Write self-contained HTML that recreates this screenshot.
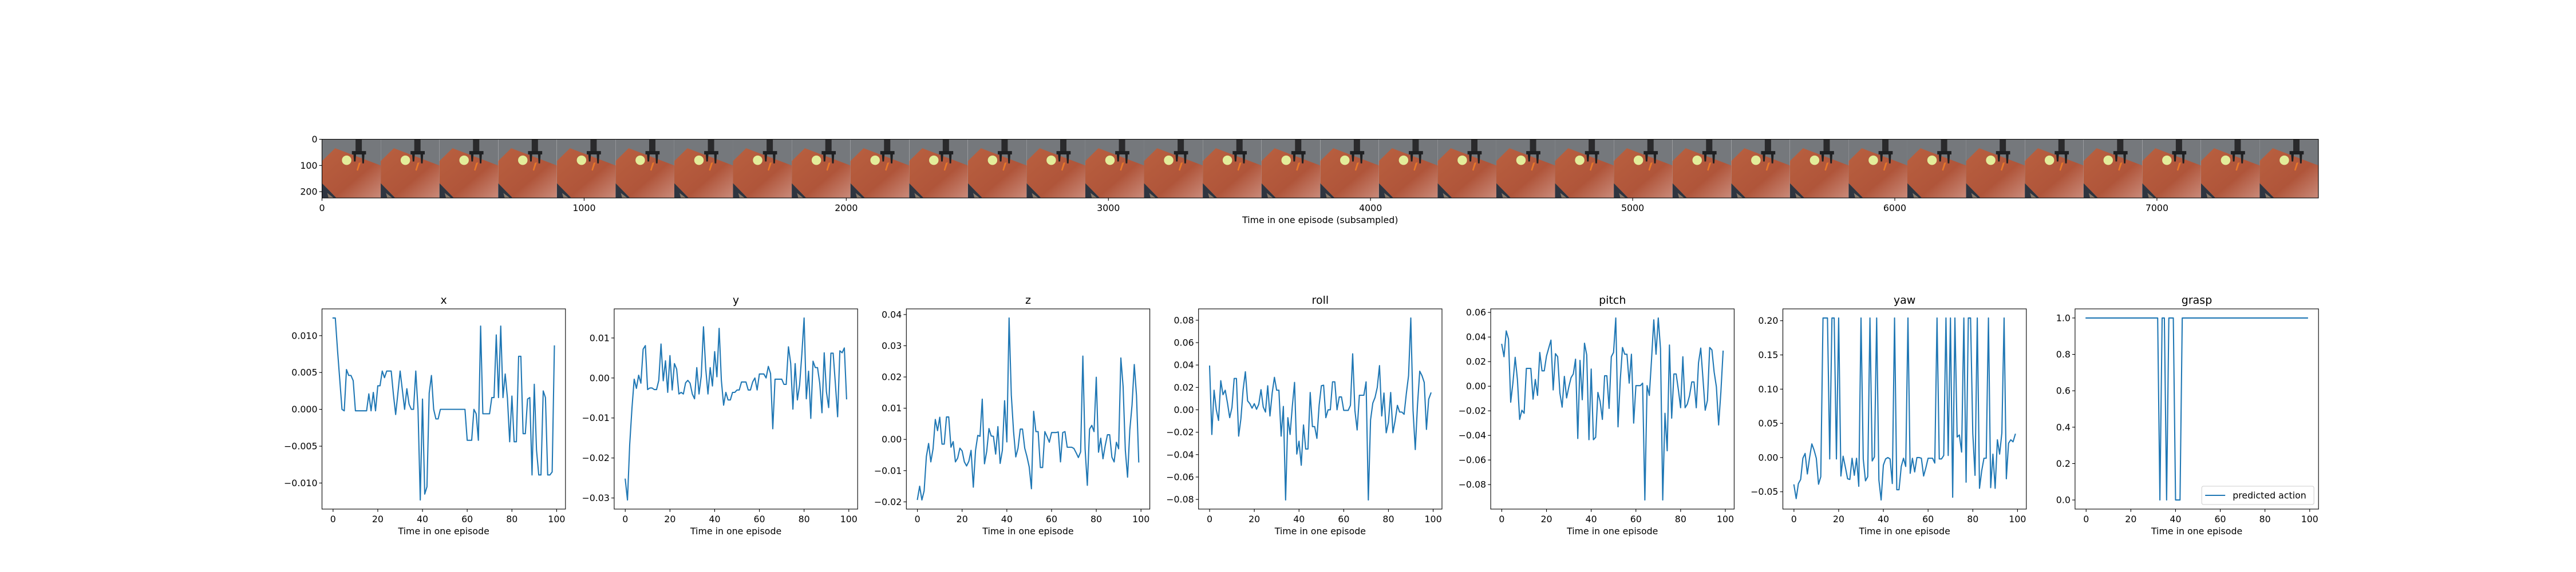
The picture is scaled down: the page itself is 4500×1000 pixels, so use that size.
<!DOCTYPE html>
<html><head><meta charset="utf-8">
<style>
html,body{margin:0;padding:0;background:#fff;}
svg{display:block;font-family:"DejaVu Sans","Liberation Sans",sans-serif;}
</style></head>
<body>
<svg id="fig" width="4500" height="1000" viewBox="0 0 4500 1000" xmlns="http://www.w3.org/2000/svg">
<defs>
<clipPath id="frameClip"><rect x="0" y="0" width="224" height="224"/></clipPath>
<linearGradient id="tableGrad" x1="0" y1="0" x2="1" y2="1">
<stop offset="0" stop-color="#b9603f"/><stop offset="0.6" stop-color="#b0553a"/><stop offset="1" stop-color="#c98a7a"/>
</linearGradient>
<g id="frame" clip-path="url(#frameClip)">
<rect x="0" y="0" width="224" height="224" fill="#75787c"/>
<polygon points="0,83 50,34 224,100 224,224 55,224 0,168" fill="url(#tableGrad)"/>
<polygon points="0,168 55,224 0,224" fill="#2f3540"/>
<polygon points="20,205 45,224 25,224" fill="#8b7a6a"/>
<circle cx="94" cy="80" r="18" fill="#e3ed9a"/>
<polygon points="140,90 148,88 137,120 132,118" fill="#e8782a"/>
<rect x="128" y="0" width="24" height="50" fill="#2a2a2c"/>
<polygon points="114,45 168,45 168,58 162,58 160,92 154,92 152,58 130,58 128,85 122,85 120,58 114,58" fill="#1f2022"/>
</g>
</defs>
<g id="imgAxes"></g>
<g id="panels"></g>
</svg>
<script>
const steps = Array.from({length:100},(_,i)=>i);
const seriesX = [0.0124,0.0124,0.008,0.004,0.0,-0.0002,0.0054,0.0046,0.0046,0.0039,-0.0002,-0.0002,-0.0002,-0.0002,-0.0002,-0.0002,0.0021,-0.0002,0.0023,-0.0002,0.0032,0.0032,0.0052,0.0043,0.0052,0.0052,0.0052,0.002,-0.0007,0.0022,0.0052,0.0026,0.0,0.0028,0.0007,0.0,0.0,0.0052,0.0,-0.0123,0.0014,-0.0115,-0.0105,0.0022,0.0046,0.0,-0.0013,-0.0013,0.0,0.0,0.0,0.0,0.0,0.0,0.0,0.0,0.0,0.0,0.0,0.0,-0.0042,-0.0042,-0.0042,0.0,-0.0006,-0.0042,0.0113,-0.0006,-0.0006,-0.0006,-0.0006,0.0016,0.0016,0.0101,0.0016,0.0113,0.0016,0.0048,0.0015,-0.0044,0.0018,-0.0044,-0.0044,0.0072,0.0072,-0.0033,-0.0033,0.0014,0.0016,-0.0089,0.0034,-0.0055,-0.0089,-0.0089,0.0025,0.0016,-0.0089,-0.0089,-0.0085,0.0086];
const seriesY = [-0.0253,-0.0305,-0.0166,-0.0076,-0.0003,-0.0026,0.0007,-0.0013,0.0072,0.0081,-0.0029,-0.0025,-0.0025,-0.0029,-0.0029,-0.0006,0.0085,-0.0007,0.0043,-0.0036,0.0056,-0.003,0.0036,0.0022,-0.004,-0.0036,-0.004,-0.0012,-0.0006,-0.0013,-0.004,-0.0052,0.0026,-0.004,0.0005,0.0128,0.0023,-0.004,0.0026,-0.002,0.0066,0.0003,0.0124,-0.0006,-0.0068,-0.0036,-0.0055,-0.0055,-0.0036,-0.0036,-0.003,-0.003,-0.001,-0.001,-0.001,-0.003,-0.003,-0.001,0.0,-0.003,0.001,0.001,0.001,0.0,0.0029,0.0011,-0.0127,-0.0003,-0.0003,-0.0003,-0.0003,-0.0016,-0.0016,0.0078,0.0037,-0.0078,0.0036,-0.0055,-0.0017,0.006,0.015,-0.0052,0.0017,-0.0101,0.0042,0.0026,0.0026,-0.0013,-0.0087,0.0063,-0.0035,-0.0074,0.0062,0.0062,-0.0015,-0.0097,0.0068,0.0063,0.0075,-0.0052];
const seriesZ = [-0.0192,-0.015,-0.0194,-0.0165,-0.0055,-0.0013,-0.0072,-0.003,0.0064,0.0028,0.0071,-0.0015,-0.0015,0.0072,0.0072,-0.0025,-0.0007,-0.0072,-0.006,-0.0028,-0.0037,-0.0072,-0.0085,-0.007,-0.0035,-0.0153,-0.0035,0.0013,0.001,0.0129,-0.0078,-0.0038,0.0035,0.0011,0.001,-0.0047,0.0041,-0.0077,-0.0035,0.0124,-0.0008,0.0389,0.0142,0.0026,-0.0056,-0.0028,0.0033,0.0033,-0.0028,-0.0055,-0.0088,-0.0158,0.009,0.0025,0.0025,-0.009,-0.009,0.0025,0.0009,-0.0009,0.0022,0.0022,0.0022,0.0024,-0.0072,0.0022,0.0025,-0.0025,-0.0025,-0.0025,-0.0029,-0.0043,-0.0058,-0.004,0.0267,-0.003,-0.0147,0.0033,0.0045,0.0025,0.0199,-0.0041,0.0004,-0.0062,-0.002,0.0015,0.0015,-0.0057,-0.0072,-0.0009,-0.003,0.0261,0.017,-0.0035,-0.0121,0.003,0.011,0.024,0.014,-0.0072];
const seriesRoll = [0.039,-0.022,0.0175,0.0,-0.0095,0.026,0.0135,0.0175,0.006,-0.007,0.002,0.028,0.028,-0.0235,-0.008,0.018,0.034,0.008,0.0055,0.0015,0.0055,0.0005,0.005,0.018,0.0025,-0.002,0.0215,-0.0055,0.015,0.029,0.0175,0.0175,-0.0235,0.003,-0.0805,-0.007,-0.022,0.003,0.0245,-0.0395,-0.028,-0.0495,-0.0135,-0.035,-0.035,0.0155,-0.015,-0.015,-0.0255,0.004,0.0215,0.022,-0.007,0.0,0.0,0.025,0.025,0.0,0.0115,0.0115,-0.0005,-0.0005,-0.0005,0.004,0.05,-0.0005,-0.018,0.013,0.013,0.013,0.025,-0.0805,-0.009,0.006,0.011,0.02,0.0395,-0.0055,0.015,-0.0205,-0.011,0.0155,-0.0205,-0.0095,0.004,-0.002,-0.002,-0.004,0.0145,0.0305,0.082,-0.0005,-0.0355,0.0045,0.0345,0.0305,0.0245,-0.0175,0.0095,0.015];
const seriesPitch = [0.034,0.024,0.045,0.0385,-0.013,0.003,0.0235,0.0055,-0.027,-0.0195,-0.022,0.0145,0.0145,0.0145,-0.0105,0.0055,-0.0075,0.0275,0.0125,0.0125,0.0245,0.031,0.0375,-0.003,0.0265,0.024,-0.0055,-0.017,0.008,-0.0095,-0.0005,0.007,0.01,0.022,-0.0425,0.021,-0.011,0.035,0.0255,-0.0435,0.014,-0.0435,-0.0415,-0.005,-0.0125,-0.027,0.0085,0.0085,-0.018,0.024,0.0275,0.0555,-0.033,0.005,0.0315,0.026,0.026,0.0025,0.026,-0.03,0.0005,0.0005,0.0005,0.0025,-0.0925,0.0005,-0.0075,0.022,0.054,0.026,0.0555,0.0305,-0.0925,-0.022,-0.0525,0.0335,-0.026,0.01,0.01,-0.003,-0.0175,0.024,-0.0175,-0.0145,-0.0075,0.0035,0.0035,-0.0175,0.019,0.031,0.006,-0.0195,-0.0115,0.0315,0.0295,0.0115,-0.0005,-0.0315,-0.005,0.0285];
const seriesYaw = [-0.04,-0.06,-0.038,-0.032,-0.001,0.006,-0.024,0.0,0.02,0.011,-0.001,-0.039,-0.028,0.204,0.204,0.204,-0.002,0.204,0.204,-0.002,0.204,-0.027,0.002,-0.014,-0.031,-0.032,-0.001,-0.026,-0.001,-0.042,0.204,-0.002,-0.034,-0.028,0.204,-0.005,0.001,0.204,-0.033,-0.062,-0.011,-0.002,0.0,-0.002,-0.038,0.204,-0.047,-0.047,-0.013,-0.001,-0.013,0.204,-0.023,-0.001,-0.021,0.0,0.0,-0.001,-0.027,-0.015,-0.001,-0.001,-0.001,-0.008,0.204,-0.002,-0.002,0.003,0.204,0.003,0.204,-0.058,0.204,0.03,0.033,0.008,0.204,-0.036,0.204,0.204,0.035,-0.026,0.204,-0.045,-0.019,-0.001,-0.001,0.204,-0.044,0.005,-0.045,0.026,0.005,0.036,0.204,-0.031,0.021,0.026,0.023,0.034];
const seriesGrasp = [1,1,1,1,1,1,1,1,1,1,1,1,1,1,1,1,1,1,1,1,1,1,1,1,1,1,1,1,1,1,1,1,1,0,1,1,0,1,1,1,0,0,0,1,1,1,1,1,1,1,1,1,1,1,1,1,1,1,1,1,1,1,1,1,1,1,1,1,1,1,1,1,1,1,1,1,1,1,1,1,1,1,1,1,1,1,1,1,1,1,1,1,1,1,1,1,1,1,1,1];
const panelTitles = ["x","y","z","roll","pitch","yaw","grasp"];
const xTicks = [0,20,40,60,80,100];
const yTicksX = [-0.010,-0.005,0.000,0.005,0.010];
const yTicksY = [-0.03,-0.02,-0.01,0.00,0.01];
const yTicksZ = [-0.02,-0.01,0.00,0.01,0.02,0.03,0.04];
const yTicksRoll = [-0.08,-0.06,-0.04,-0.02,0.00,0.02,0.04,0.06,0.08];
const yTicksPitch = [-0.08,-0.06,-0.04,-0.02,0.00,0.02,0.04,0.06];
const yTicksYaw = [-0.05,0.00,0.05,0.10,0.15,0.20];
const yTicksGrasp = [0.0,0.2,0.4,0.6,0.8,1.0];
const tickDecimals = [3,2,2,2,2,2,1];
const frameCount = 34;
const frameWidth = 224;
const imgXTicks = [0,1000,2000,3000,4000,5000,6000,7000];
const imgYTicks = [0,100,200];

const FS = 15.8, TFS = 19;
const NS = "http://www.w3.org/2000/svg";
function mk(tag, attrs, parent){const e=document.createElementNS(NS,tag);for(const k in attrs)e.setAttribute(k,attrs[k]);if(parent)parent.appendChild(e);return e;}
function fmt(v,d){const s=Math.abs(v).toFixed(d);return (v< -1e-12?"\u2212":"")+s;}

// ---- image strip ----
const imgG = document.getElementById('imgAxes');
const IL=562.5, IR=4050, ITOP=243.5;
const imgExtent = frameCount*frameWidth;
const ipx = (IR-IL)/imgExtent;
const IH = frameWidth*ipx;
function ix(v){return IL+v*ipx;}
function iy(v){return ITOP+v*ipx;}
for(let f=0; f<frameCount; f++){
  const u = mk('use',{href:'#frame',transform:`translate(${ix(f*frameWidth)},${ITOP}) scale(${ipx})`},imgG);
  
  
}
const ib = mk('rect',{x:IL,y:ITOP,width:IR-IL,height:IH,fill:'none',stroke:'#000','stroke-width':1.1},imgG);


imgXTicks.forEach(t=>{
  const x=ix(t);
  mk('line',{x1:x,x2:x,y1:ITOP+IH,y2:ITOP+IH+4.9,stroke:'#000','stroke-width':1.1},imgG);
  const tx=mk('text',{x:x,y:ITOP+IH+23,'font-size':FS,'text-anchor':'middle'},imgG);
  tx.textContent=t;
  
  
});
imgYTicks.forEach(t=>{
  const y=iy(t);
  mk('line',{x1:IL-4.9,x2:IL,y1:y,y2:y,stroke:'#000','stroke-width':1.1},imgG);
  const tx=mk('text',{x:IL-8,y:y+5.5,'font-size':FS,'text-anchor':'end'},imgG);
  tx.textContent=t;
  
  
});
const ixl=mk('text',{x:(IL+IR)/2,y:ITOP+IH+44,'font-size':FS,'text-anchor':'middle'},imgG);
ixl.textContent='Time in one episode (subsampled)';



// ---- action panels ----
const allSeries=[seriesX,seriesY,seriesZ,seriesRoll,seriesPitch,seriesYaw,seriesGrasp];
const allTicks=[yTicksX,yTicksY,yTicksZ,yTicksRoll,yTicksPitch,yTicksYaw,yTicksGrasp];
const panelsG=document.getElementById('panels');
const PW=425.3, PSTEP=510.4, PT=540, PB=890;
allSeries.forEach((data,p)=>{
  const g=mk('g',{},panelsG);
  
  
  const L=562.5+p*PSTEP, R=L+PW;
  const xmin=Math.min(...steps), xmax=Math.max(...steps), xm=(xmax-xmin)*0.05;
  const ymin=Math.min(...data), ymax=Math.max(...data), ym=(ymax-ymin)*0.05;
  const X=v=>L+(v-(xmin-xm))/((xmax+xm)-(xmin-xm))*PW;
  const Y=v=>PB-(v-(ymin-ym))/((ymax+ym)-(ymin-ym))*(PB-PT);
  const pts=data.map((v,i)=>X(steps[i]).toFixed(2)+','+Y(v).toFixed(2)).join(' ');
  const line=mk('polyline',{points:pts,fill:'none',stroke:'#1f77b4','stroke-width':2.08,'stroke-linejoin':'round','stroke-linecap':'square'},g);
  
  
  const fr=mk('rect',{x:L,y:PT,width:PW,height:PB-PT,fill:'none',stroke:'#000','stroke-width':1.1},g);
  
  
  xTicks.forEach(t=>{
    const x=X(t);
    mk('line',{x1:x,x2:x,y1:PB,y2:PB+4.9,stroke:'#000','stroke-width':1.1},g);
    const tx=mk('text',{x:x,y:PB+23,'font-size':FS,'text-anchor':'middle'},g);
    tx.textContent=t;
    
    
  });
  allTicks[p].forEach(t=>{
    const y=Y(t);
    mk('line',{x1:L-4.9,x2:L,y1:y,y2:y,stroke:'#000','stroke-width':1.1},g);
    const tx=mk('text',{x:L-8,y:y+5.5,'font-size':FS,'text-anchor':'end'},g);
    tx.textContent=fmt(t,tickDecimals[p]);
    
    
  });
  const ti=mk('text',{x:(L+R)/2,y:PT-9,'font-size':TFS,'text-anchor':'middle'},g);
  ti.textContent=panelTitles[p];
  
  
  const xl=mk('text',{x:(L+R)/2,y:PB+44,'font-size':FS,'text-anchor':'middle'},g);
  xl.textContent='Time in one episode';
  
  
  if(p===6){
    const lg=mk('g',{},g);
    
    
    mk('rect',{x:R-204,y:PB-40,width:196,height:32,rx:3,fill:'#fff','fill-opacity':0.8,stroke:'#ccc','stroke-width':1},lg);
    const ll=mk('line',{x1:R-198,x2:R-163,y1:PB-24,y2:PB-24,stroke:'#1f77b4','stroke-width':2.08},lg);
    
    
    const lt=mk('text',{x:R-150,y:PB-18.5,'font-size':FS},lg);
    lt.textContent='predicted action';
    
    
  }
});
</script>
</body></html>
